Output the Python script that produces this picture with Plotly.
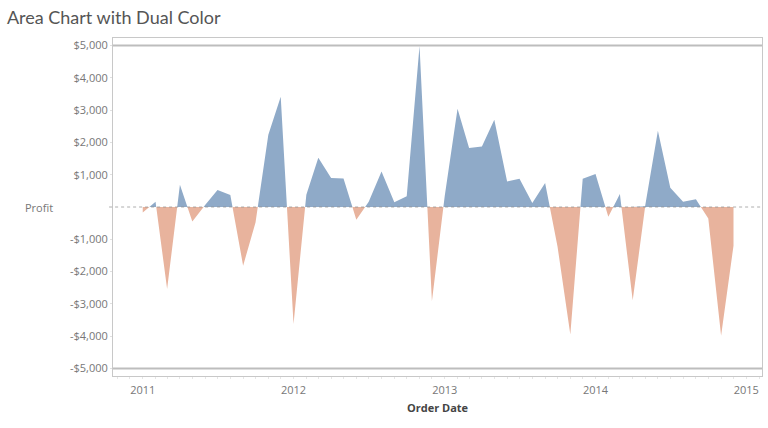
import pandas as pd
import plotly.graph_objects as go

# ---- data (monthly profit) ----
months = pd.date_range("2011-01-01", "2014-12-01", freq="MS")
profit_2011 = [-170, 160, -2540, 690, -450, 60, 530, 370, -1817, -477, 2238, 3415]
profit_2012 = [-3622, 381, 1526, 898, 885, -393, 160, 1102, 144, 330, 4990, -2922]
profit_2013 = [340, 3040, 1826, 1876, 2703, 793, 876, 124, 743, -1220, -3953, 876]
profit_2014 = [1020, -300, 400, -2892, 20, 2362, 600, 160, 240, -360, -3985, -1198]
profit = profit_2011 + profit_2012 + profit_2013 + profit_2014

y_tickvals = [5000, 4000, 3000, 2000, 1000, -1000, -2000, -3000, -4000, -5000]
y_ticktext = ["$5,000", "$4,000", "$3,000", "$2,000", "$1,000",
              "-$1,000", "-$2,000", "-$3,000", "-$4,000", "-$5,000"]
x_tickvals = ["2011-01-01", "2012-01-01", "2013-01-01", "2014-01-01", "2015-01-01"]
x_ticktext = ["2011", "2012", "2013", "2014", "2015"]

# ---- split series at zero crossings ----
xs, ys = [], []
for i in range(len(profit)):
    if i > 0:
        y0, y1 = profit[i - 1], profit[i]
        if (y0 > 0 and y1 < 0) or (y0 < 0 and y1 > 0):
            t0, t1 = months[i - 1], months[i]
            frac = y0 / (y0 - y1)
            xs.append(t0 + (t1 - t0) * frac)
            ys.append(0)
    xs.append(months[i])
    ys.append(profit[i])

pos = [max(v, 0) for v in ys]
neg = [min(v, 0) for v in ys]

BLUE = "#8FAAC8"
ORANGE = "#E8B39D"

fig = go.Figure()
fig.add_trace(go.Scatter(x=xs, y=pos, mode="lines", line=dict(width=0, color=BLUE),
                         fill="tozeroy", fillcolor=BLUE, hoverinfo="skip", showlegend=False))
fig.add_trace(go.Scatter(x=xs, y=neg, mode="lines", line=dict(width=0, color=ORANGE),
                         fill="tozeroy", fillcolor=ORANGE, hoverinfo="skip", showlegend=False))

# reference lines at +/- 5000 and zero line
for v in (5000, -5000):
    fig.add_shape(type="line", xref="paper", x0=0, x1=1, y0=v, y1=v,
                  line=dict(color="#BDBDBD", width=2))
fig.add_shape(type="line", xref="paper", x0=-0.006, x1=1, y0=0, y1=0,
              line=dict(color="rgba(140,140,140,0.7)", width=1, dash="dot"))

fig.update_layout(
    width=768, height=428,
    margin=dict(l=113, r=6, t=38, b=52, autoexpand=False),
    paper_bgcolor="white", plot_bgcolor="white",
    font=dict(family="Open Sans, Lato, sans-serif", color="#777", size=11),
    title=dict(text="Area Chart with Dual Color", x=0.009, xanchor="left",
               y=0.958, yanchor="middle", automargin=False,
               font=dict(family="Lato, sans-serif", size=18, color="#555")),
    xaxis=dict(
        type="date", range=["2010-10-21", "2015-02-08"], automargin=False,
        tickvals=x_tickvals, ticktext=x_ticktext,
        showgrid=False, zeroline=False,
        showline=True, linecolor="#C8C8C8", linewidth=1, mirror=True,
        ticks="", tickfont=dict(size=11, color="#777"), ticklabelstandoff=4,
        minor=dict(dtick="M1", ticks="outside", ticklen=2, tickcolor="#E6E6E6", showgrid=False),
        title=dict(text="<b>Order Date</b>", font=dict(size=11, color="#444"), standoff=8),
    ),
    yaxis=dict(
        range=[-5235, 5235], automargin=False,
        tickvals=y_tickvals, ticktext=y_ticktext,
        showgrid=False, zeroline=False,
        showline=True, linecolor="#C8C8C8", linewidth=1, mirror=True,
        ticks="outside", ticklen=2, tickcolor="#E0E0E0",
        tickfont=dict(size=11, color="#777"),
    ),
    annotations=[dict(text="Profit", xref="paper", yref="y", x=-0.09, y=0,
                      xanchor="right", yanchor="middle", showarrow=False,
                      font=dict(size=11, color="#777"))],
)

fig.write_html("out.html", config={"displayModeBar": False},
               post_script="document.body.style.margin='0';document.body.style.padding='0';")
